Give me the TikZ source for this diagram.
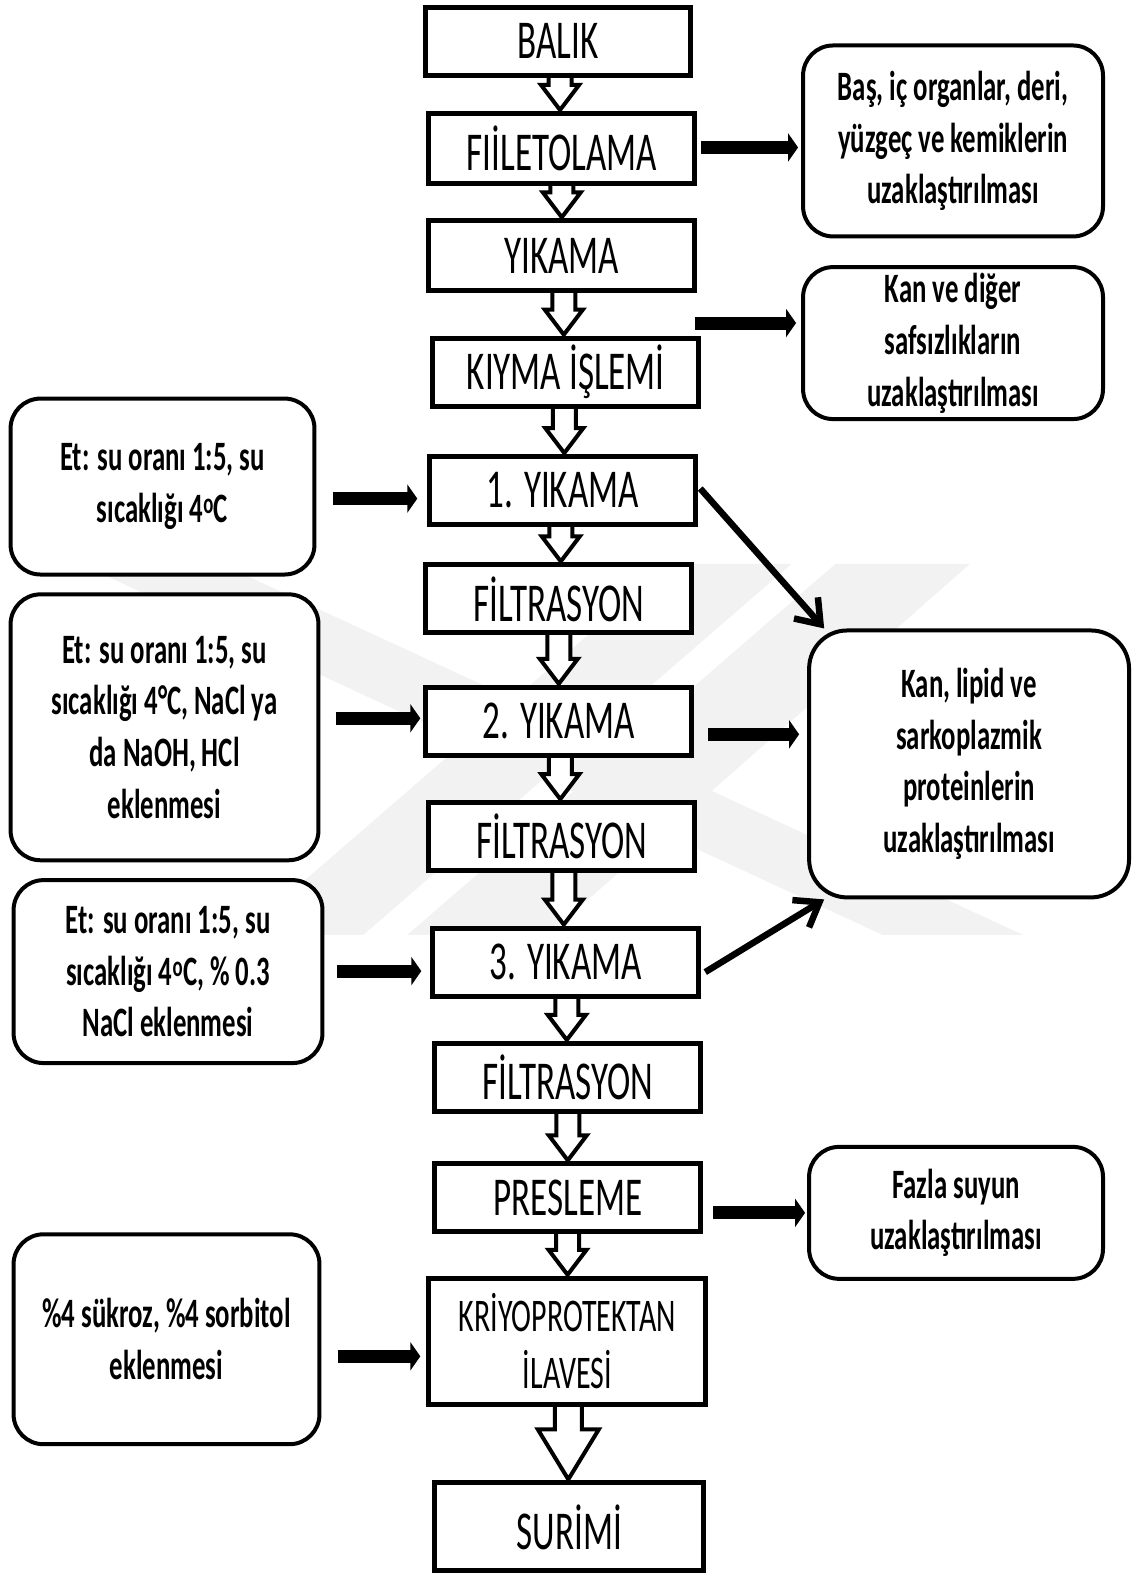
\documentclass[tikz,border=0pt]{standalone}
\usepackage{fontspec}
\setmainfont{Carlito}[FakeStretch=0.64]
\usetikzlibrary{arrows.meta,calc}
\pgfdeclarelayer{wm}
\pgfdeclarelayer{bg}
\pgfsetlayers{wm,bg,main}
\tikzset{
  stepbox/.style={draw, line width=5bp, fill=white, inner sep=0pt, align=center,
    minimum width=266bp, minimum height=68bp, font=\fontsize{55}{57}\selectfont},
  sidebox/.style={draw, line width=4bp, rounded corners=30bp, fill=white, inner sep=0pt,
    align=center, font=\bfseries\fontsize{42}{52}\selectfont},
  fat/.style={line width=13bp, -{Triangle[length=10bp,width=28bp]}},
  diag/.style={line width=6.5bp, -{Straight Barb[length=22bp,width=32bp]}},
  hollowarr/.style={draw, line width=4bp, fill=white, line join=miter},
  wmc/.style={fill=black!5}
}
\newcommand\hollowarrow[5]{%
  \begin{pgfonlayer}{bg}
  \draw[hollowarr] let \p1=(#1.south), \p2=(#2.north), \p3=($(\p1)!0.5!(\p2)$) in
    (\x3-#3, \y1+3bp) -- (\x3-#3, \y2+#5) -- (\x3-#4, \y2+#5) -- (\x3, \y2+1bp)
    -- (\x3+#4, \y2+#5) -- (\x3+#3, \y2+#5) -- (\x3+#3, \y1+3bp);
  \end{pgfonlayer}}
\begin{document}
\begin{tikzpicture}[x=1.0035bp, y=-1.0035bp]
\useasboundingbox (0,0) rectangle (1128,1568);
\begin{pgfonlayer}{wm}
\fill[white] (0,0) rectangle (1128,1568);
\fill[wmc] (80,562) -- (220,562) -- (1020,932) -- (880,932) -- cycle;
\fill[wmc] (833,562) -- (967,562) -- (546,932) -- (406,932) -- cycle;
\fill[wmc] (668,562) -- (789,562) -- (362,932) -- (241,932) -- cycle;
\end{pgfonlayer}

% central steps
\node[stepbox, minimum width=265bp] (B) at (556.5,41) {BALIK};
\node[stepbox, minimum height=70bp] (F1) at (560,148) {FIİLETOLAMA};
\node[stepbox, minimum height=70bp] (Y0) at (560,255) {YIKAMA};
\node[stepbox] (K) at (564,371) {KIYMA İŞLEMİ};
\node[stepbox] (Y1) at (561,489) {1. YIKAMA};
\node[stepbox] (FT1) at (557,597) {FİLTRASYON};
\node[stepbox] (Y2) at (557,719) {2. YIKAMA};
\node[stepbox] (FT2) at (560,834) {FİLTRASYON};
\node[stepbox] (Y3) at (564,959) {3. YIKAMA};
\node[stepbox] (FT3) at (566,1074) {FİLTRASYON};
\node[stepbox] (P) at (566,1194) {PRESLEME};
\node[stepbox, minimum width=277bp, minimum height=126bp, font=\fontsize{47}{57}\selectfont] (KR) at (565.5,1337) {KRİYOPROTEKTAN\\İLAVESİ};
\node[stepbox, minimum width=269bp, minimum height=88bp] (S) at (567.5,1522) {SURİMİ};

% side boxes
\node[sidebox, minimum width=300bp, minimum height=191bp] (R1) at (950,140.5) {Baş, iç organlar, deri,\\yüzgeç ve kemiklerin\\uzaklaştırılması};
\node[sidebox, minimum width=300bp, minimum height=152bp] (R2) at (950,342) {Kan ve diğer\\safsızlıkların\\uzaklaştırılması};
\node[sidebox, minimum width=320bp, minimum height=267bp, rounded corners=38bp] (R3) at (966,761.5) {Kan, lipid ve\\sarkoplazmik\\proteinlerin\\uzaklaştırılması};
\node[sidebox, minimum width=294bp, minimum height=132bp] (R4) at (953,1209) {Fazla suyun\\uzaklaştırılması};
\node[sidebox, minimum width=304bp, minimum height=176bp] (L1) at (162,485) {Et: su oranı 1:5, su\\sıcaklığı 4\textsuperscript{o}C};
\node[sidebox, minimum width=308bp, minimum height=266bp] (L2) at (164,725) {Et: su oranı 1:5, su\\sıcaklığı 4°C, NaCl ya\\da NaOH, HCl\\eklenmesi};
\node[sidebox, minimum width=309bp, minimum height=183bp] (L3) at (167.5,968.5) {Et: su oranı 1:5, su\\sıcaklığı 4\textsuperscript{o}C, \% 0.3\\NaCl eklenmesi};
\node[sidebox, minimum width=306bp, minimum height=210bp] (L4) at (166,1335) {\%4 sükroz, \%4 sorbitol\\eklenmesi};

% hollow flow arrows
\hollowarrow{B}{F1}{11.5bp}{19bp}{26bp}
\hollowarrow{F1}{Y0}{11.5bp}{19bp}{26bp}
\hollowarrow{Y0}{K}{11.5bp}{19bp}{26bp}
\hollowarrow{K}{Y1}{11.5bp}{19bp}{26bp}
\hollowarrow{Y1}{FT1}{11.5bp}{19bp}{26bp}
\hollowarrow{FT1}{Y2}{11.5bp}{19bp}{26bp}
\hollowarrow{Y2}{FT2}{11.5bp}{19bp}{26bp}
\hollowarrow{FT2}{Y3}{11.5bp}{19bp}{26bp}
\hollowarrow{Y3}{FT3}{11.5bp}{19bp}{26bp}
\hollowarrow{FT3}{P}{11.5bp}{19bp}{26bp}
\hollowarrow{P}{KR}{11.5bp}{19bp}{26bp}
\hollowarrow{KR}{S}{13.5bp}{30.5bp}{51bp}

% side arrows
\coordinate (yA) at (0,147);
\coordinate (yB) at (693,322);
\coordinate (yC) at (0,497);
\coordinate (yD) at (0,716);
\coordinate (yE) at (0,732);
\coordinate (yF) at (0,968);
\coordinate (yG) at (0,1209);
\coordinate (yH) at (0,1352);
\draw[fat] ($(F1.east |- yA)+(4,0)$) -- ($(R1.west |- yA)+(-3,0)$);
\draw[fat] (yB) -- ($(R2.west |- yB)+(-5,0)$);
\draw[fat] ($(L1.east |- yC)+(16,0)$) -- ($(Y1.west |- yC)+(-10,0)$);
\draw[fat] ($(L2.east |- yD)+(15,0)$) -- ($(Y2.west |- yD)+(-3,0)$);
\draw[fat] ($(Y2.east |- yE)+(14,0)$) -- ($(R3.west |- yE)+(-8,0)$);
\draw[fat] ($(L3.east |- yF)+(12,0)$) -- ($(Y3.west |- yF)+(-9,0)$);
\draw[fat] ($(P.east |- yG)+(10,0)$) -- ($(R4.west |- yG)+(-2,0)$);
\draw[fat] ($(L4.east |- yH)+(16,0)$) -- ($(KR.west |- yH)+(-6,0)$);
\draw[diag] ($(Y1.east)+(2,-2)$) -- ($(R3.north west)+(17,0)$);
\draw[diag] ($(Y3.east)+(4,10)$) -- ($(R3.south west)+(17,0)$);
\end{tikzpicture}
\end{document}
